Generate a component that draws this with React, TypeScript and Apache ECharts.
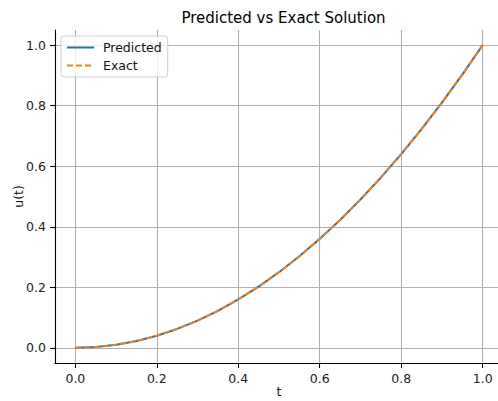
import React, { useEffect, useRef } from "react";
import * as echarts from "echarts";

// Sample times on [0, 1]
const tValues = [
  0.0, 0.05, 0.1, 0.15, 0.2, 0.25, 0.3, 0.35, 0.4, 0.45, 0.5,
  0.55, 0.6, 0.65, 0.7, 0.75, 0.8, 0.85, 0.9, 0.95, 1.0,
];
// Network prediction u(t)
const predicted = [
  0.0, 0.0025, 0.01, 0.0225, 0.04, 0.0625, 0.09, 0.1225, 0.16, 0.2025, 0.25,
  0.3025, 0.36, 0.4225, 0.49, 0.5625, 0.64, 0.7225, 0.81, 0.9025, 1.0,
];
// Analytic solution u(t)
const exact = [
  0.0, 0.0025, 0.01, 0.0225, 0.04, 0.0625, 0.09, 0.1225, 0.16, 0.2025, 0.25,
  0.3025, 0.36, 0.4225, 0.49, 0.5625, 0.64, 0.7225, 0.81, 0.9025, 1.0,
];
const xTicks = [0.0, 0.2, 0.4, 0.6, 0.8, 1.0];
const yTicks = [0.0, 0.2, 0.4, 0.6, 0.8, 1.0];

const FONT = "DejaVu Sans";
const FS = 12.5;

export default function App() {
  const ref = useRef<HTMLDivElement>(null);

  useEffect(() => {
    if (!ref.current) return;
    const chart = echarts.init(ref.current, undefined, { renderer: "svg" });

    const axisCommon = {
      type: "value" as const,
      nameLocation: "middle" as const,
      nameMoveOverlap: false,
      nameTextStyle: { fontFamily: FONT, fontSize: FS, color: "#111" },
      axisLine: { show: true, onZero: false, lineStyle: { color: "#000", width: 1.1 } },
      axisTick: { show: true, length: 5, lineStyle: { color: "#000", width: 1.1 } },
      axisLabel: {
        fontFamily: FONT,
        fontSize: FS,
        color: "#222",
        margin: 9,
        formatter: (v: number) => v.toFixed(1),
      },
      splitLine: { show: true, lineStyle: { color: "#b0b0b0", width: 1.1 } },
    };

    chart.setOption({
      animation: false,
      backgroundColor: "#fff",
      title: {
        text: "Predicted vs Exact Solution",
        left: 278.5,
        top: 5,
        textAlign: "center",
        textStyle: { fontFamily: FONT, fontSize: 15, fontWeight: "normal", color: "#000" },
      },
      grid: {
        left: 55,
        top: 30,
        right: -5,
        bottom: 38,
        containLabel: false,
        outerBoundsMode: "none",
      },
      legend: {
        left: 61,
        top: 36,
        orient: "vertical",
        itemWidth: 27,
        itemHeight: 14,
        itemGap: 5,
        padding: [5, 6, 5, 5],
        borderColor: "#d0d0d0",
        borderWidth: 1,
        borderRadius: 3,
        backgroundColor: "rgba(255,255,255,0.8)",
        itemStyle: { opacity: 0 },
        textStyle: { fontFamily: FONT, fontSize: FS, color: "#111", padding: [0, 0, 0, 4] },
        data: ["Predicted", "Exact"],
      },
      xAxis: {
        ...axisCommon,
        min: -0.05,
        max: 1.05,
        name: "t",
        nameGap: 22,
        axisTick: { ...axisCommon.axisTick, customValues: xTicks },
        axisLabel: { ...axisCommon.axisLabel, customValues: xTicks },
      },
      yAxis: {
        ...axisCommon,
        min: -0.05,
        max: 1.05,
        name: "u(t)",
        nameGap: 30,
        axisTick: { ...axisCommon.axisTick, customValues: yTicks },
        axisLabel: { ...axisCommon.axisLabel, customValues: yTicks },
      },
      series: [
        {
          name: "Predicted",
          type: "line",
          data: tValues.map((t, i) => [t, predicted[i]]),
          symbol: "none",
          showSymbol: false,
          lineStyle: { color: "#1f77b4", width: 2 },
          itemStyle: { color: "#1f77b4" },
        },
        {
          name: "Exact",
          type: "line",
          data: tValues.map((t, i) => [t, exact[i]]),
          symbol: "none",
          showSymbol: false,
          lineStyle: { color: "#ff7f0e", width: 2, type: [6, 3] },
          itemStyle: { color: "#ff7f0e" },
        },
      ],
    });

    return () => chart.dispose();
  }, []);

  return (
    <div
      ref={ref}
      style={{ position: "fixed", left: 0, top: 0, width: 498, height: 401 }}
    />
  );
}
